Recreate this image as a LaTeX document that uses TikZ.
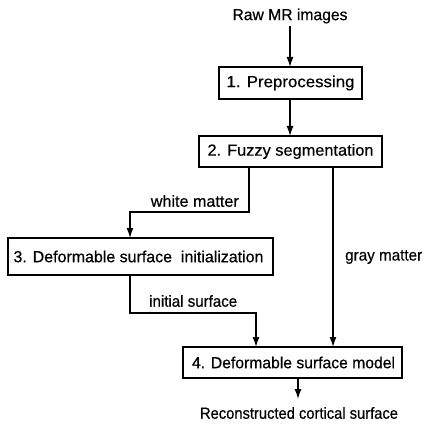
\documentclass[tikz,border=0pt]{standalone}
\usepackage{fontspec}
\usepackage{graphicx}
\setmainfont[FakeBold=0.5]{Liberation Sans}
\usetikzlibrary{arrows.meta}
\newcommand{\fitw}[2]{\resizebox{#1}{\height}{#2}}
\begin{document}
\begin{tikzpicture}[x=1pt,y=-1pt,
  every node/.style={font=\fontsize{16}{18}\selectfont, inner sep=0pt},
  stepbox/.style={draw, line width=1.3pt, minimum height=0pt},
  flow/.style={line width=1.3pt, -{Latex[length=10pt,width=7pt]}}]
\useasboundingbox (0,0) rectangle (425,435);
\node (raw) at (290,16) {\fitw{115pt}{Raw MR images}};
\draw[stepbox] (219,67) rectangle (362,99);
\node (b1) at (290.5,83) {\fitw{128pt}{1. Preprocessing}};
\coordinate (b1t) at (290,67); \coordinate (b1b) at (290,99);
\draw[stepbox] (199,136) rectangle (382,167);
\node (b2) at (290.5,151.5) {\fitw{166pt}{2. Fuzzy segmentation}};
\coordinate (b2t) at (290,136);
\coordinate (b2wm) at (249,167); \coordinate (b2gm) at (333,167);
\draw[stepbox] (8,238) rectangle (273,275);
\node (b3) at (138.5,256.5) {\fitw{250pt}{3. Deformable surface\ \ initialization}};
\coordinate (b3t) at (130,238); \coordinate (b3b) at (130,275);
\draw[stepbox] (183,347) rectangle (402,378);
\node (b4) at (293.5,362.5) {\fitw{203pt}{4. Deformable surface model}};
\coordinate (b4a) at (256,347); \coordinate (b4b) at (333,347); \coordinate (b4c) at (298,378);
\coordinate (raws) at (290,26);
\coordinate (wmc) at (249,212); \coordinate (wmd) at (130,212);
\coordinate (isc) at (130,313); \coordinate (isd) at (256,313);
\coordinate (out) at (298,399);
\node (rcs) at (299,413) {\fitw{198pt}{Reconstructed cortical surface}};
\node[anchor=east] (wml) at (239,201) {\fitw{88pt}{white matter}};
\node[anchor=west] (gml) at (345,257) {\fitw{77pt}{gray matter}};
\node[anchor=west] (isl) at (149,301) {\fitw{88pt}{initial surface}};
\draw[flow] (raws) -- (b1t);
\draw[flow] (b1b) -- (b2t);
\draw[flow] (b2wm) -- (wmc) -- (wmd) -- (b3t);
\draw[flow] (b2gm) -- (b4b);
\draw[flow] (b3b) -- (isc) -- (isd) -- (b4a);
\draw[flow] (b4c) -- (out);
\end{tikzpicture}
\end{document}
